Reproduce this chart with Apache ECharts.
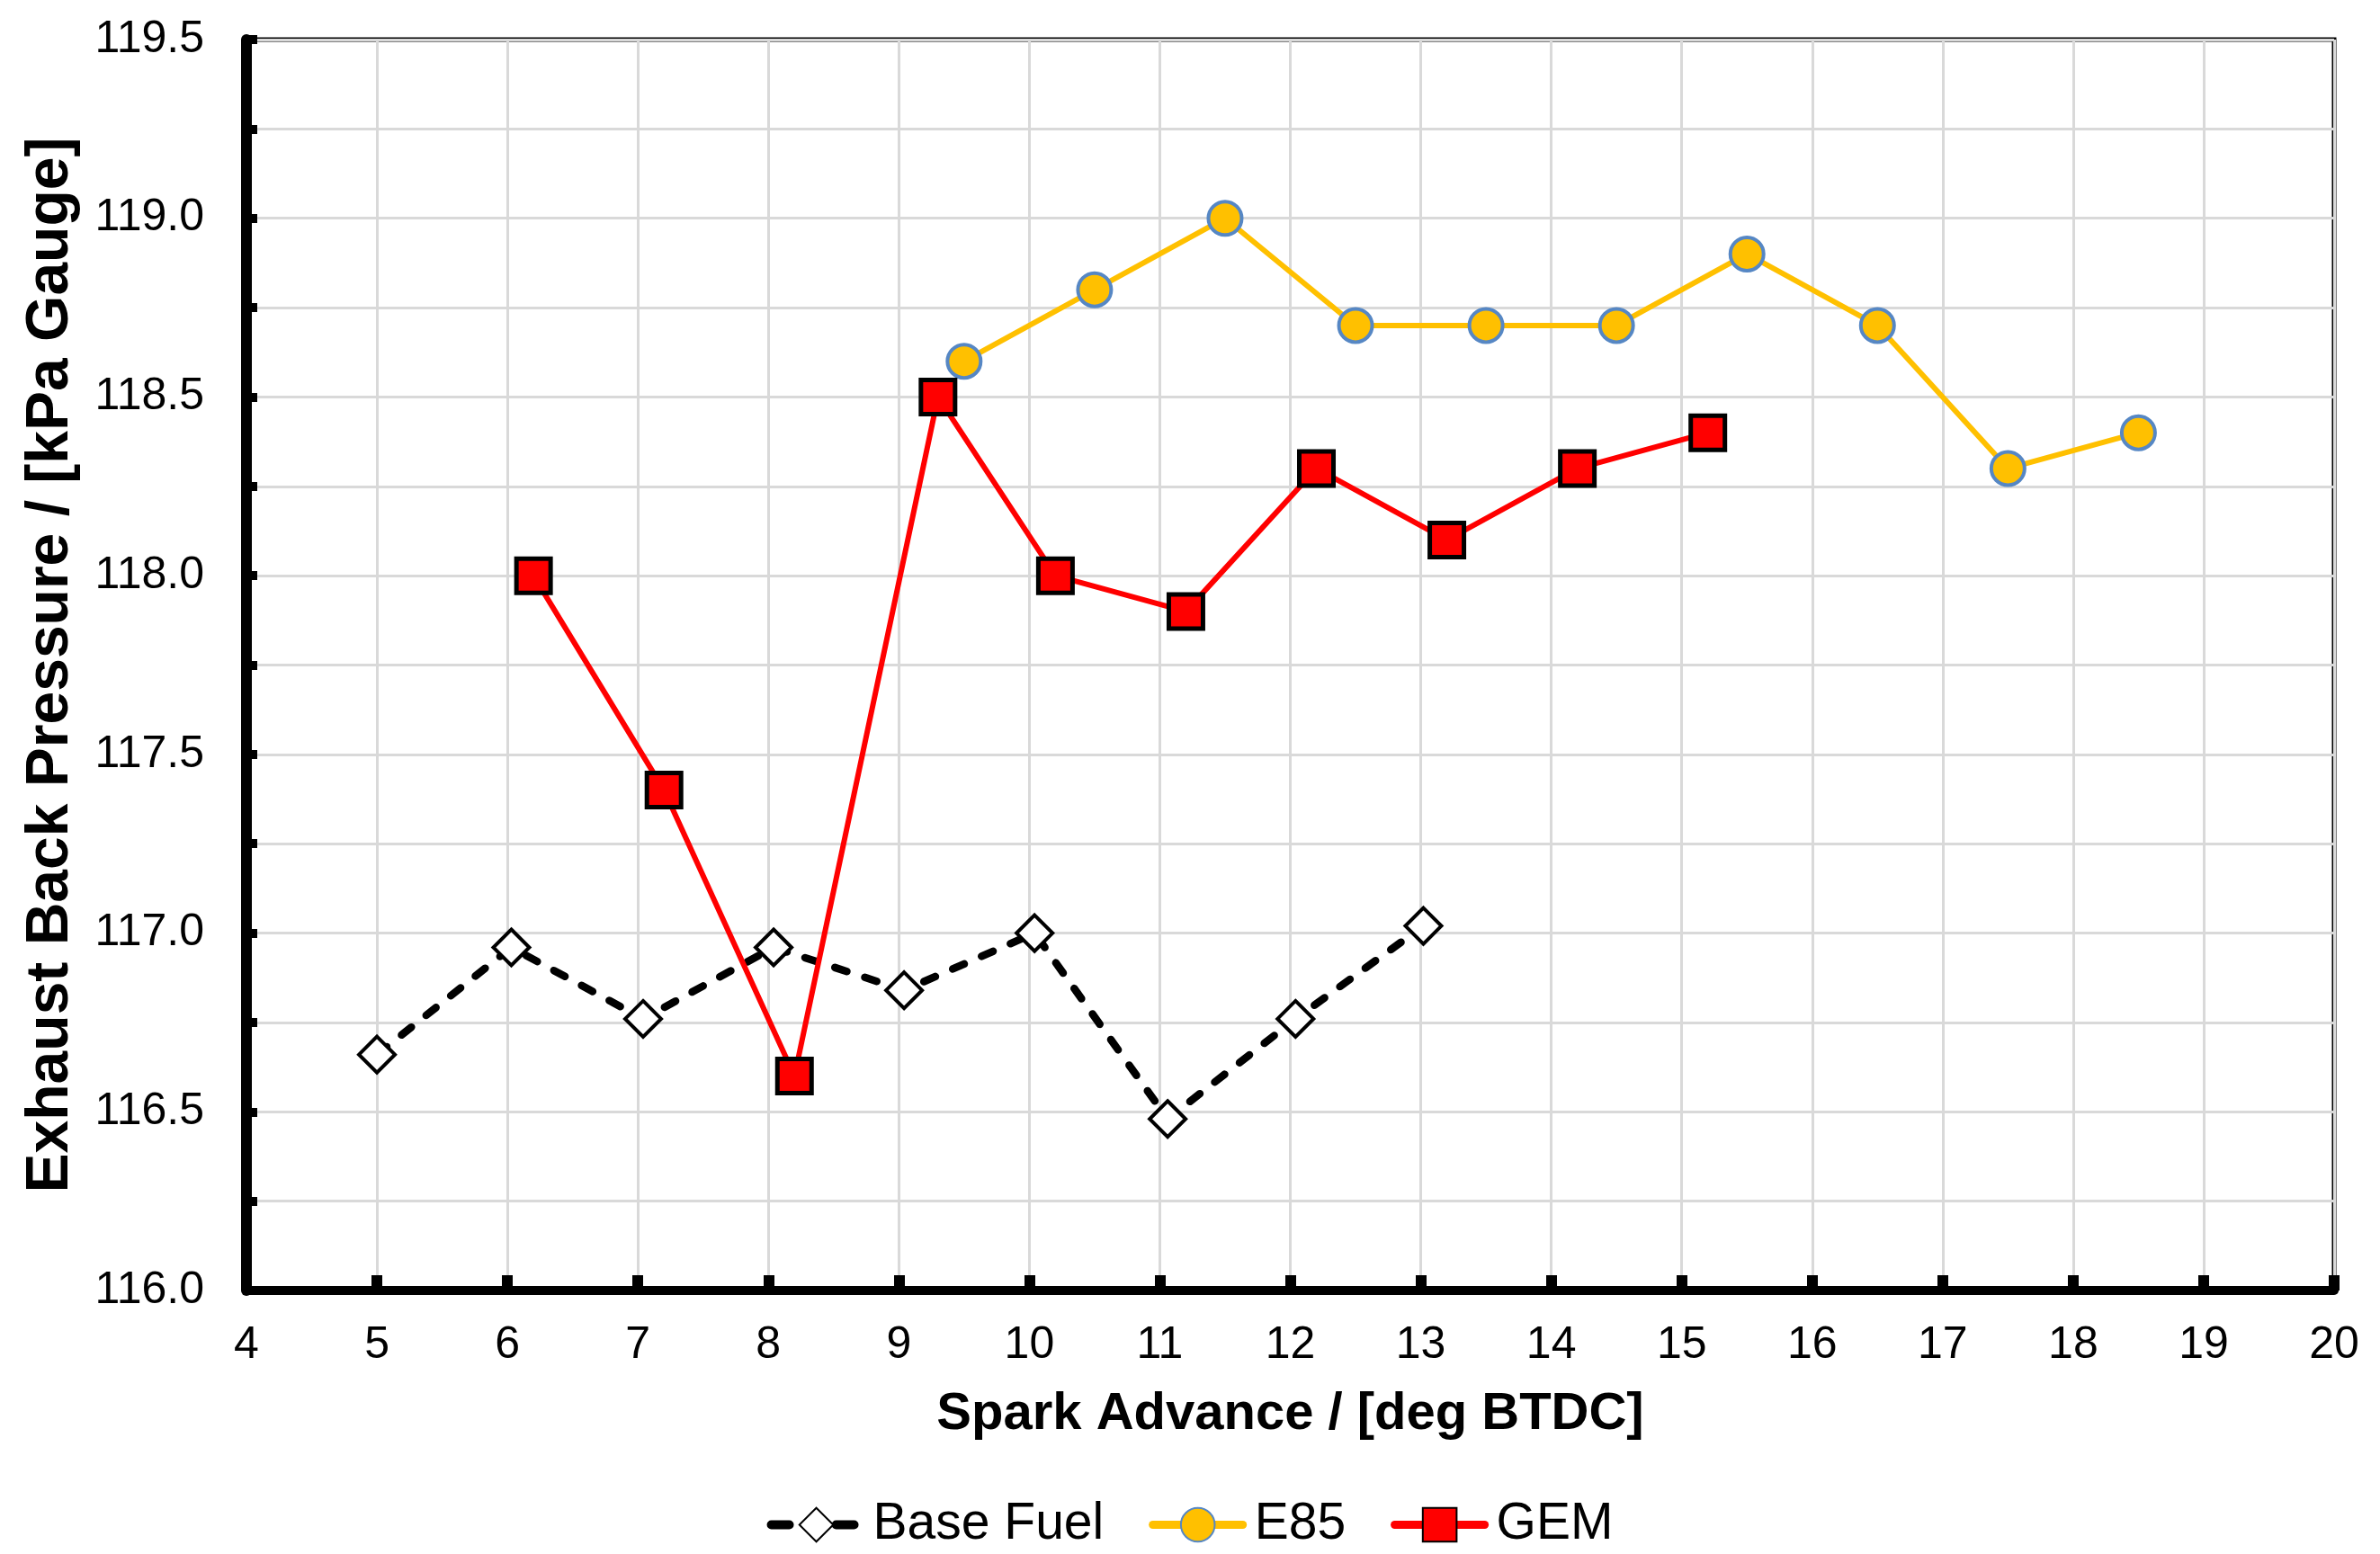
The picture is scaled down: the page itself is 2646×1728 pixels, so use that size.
<!DOCTYPE html>
<html><head><meta charset="utf-8">
<script src="https://cdn.jsdelivr.net/npm/echarts@6/dist/echarts.min.js"></script>
<style>html,body{margin:0;padding:0;background:#fff}#c{width:2646px;height:1728px}</style>
</head><body><div id="c"></div>
<script>
const seriesNames = ['Base Fuel', 'E85', 'GEM'];
const baseX = [5.0, 6.03, 7.04, 8.04, 9.04, 10.04, 11.06, 12.04, 13.02];
const baseY = [116.66, 116.96, 116.76, 116.96, 116.84, 117.0, 116.48, 116.76, 117.02];
const e85X = [9.5, 10.5, 11.5, 12.5, 13.5, 14.5, 15.5, 16.5, 17.5, 18.5];
const e85Y = [118.6, 118.8, 119.0, 118.7, 118.7, 118.7, 118.9, 118.7, 118.3, 118.4];
const gemX = [6.2, 7.2, 8.2, 9.3, 10.2, 11.2, 12.2, 13.2, 14.2, 15.2];
const gemY = [118.0, 117.4, 116.6, 118.5, 118.0, 117.9, 118.3, 118.1, 118.3, 118.4];
const xTicks = {min: 4, max: 20, step: 1};
const yTicks = {min: 116, max: 119.5, step: 0.25, labelStep: 0.5};

const pairs = (xs, ys) => xs.map((x, i) => [x, ys[i]]);
const FONT = '"Liberation Sans", Arial, sans-serif';

const chart = echarts.init(document.getElementById('c'), null, {renderer: 'canvas'});
chart.setOption({
  backgroundColor: '#fff',
  animation: false,
  grid: {left: 274, right: 51, top: 44, bottom: 293, show: true, borderColor: '#000', borderWidth: 5, backgroundColor: 'transparent'},
  legend: {
    data: [
      {name: seriesNames[0], lineStyle: {width: 10, type: [20, 52], cap: 'round', color: '#000'}},
      {name: seriesNames[1], lineStyle: {width: 9, color: '#FFC000', cap: 'round'}},
      {name: seriesNames[2], lineStyle: {width: 9, color: '#FF0000', cap: 'round'}}
    ],
    left: 'center',
    top: 1662,
    itemWidth: 100,
    itemHeight: 47,
    itemGap: 50,
    textStyle: {fontFamily: FONT, fontSize: 57, color: '#000', padding: [0, 0, 0, 8]}
  },
  xAxis: {
    type: 'value',
    min: xTicks.min, max: xTicks.max, interval: xTicks.step,
    name: 'Spark Advance / [deg BTDC]',
    nameLocation: 'middle',
    nameGap: 109,
    nameTextStyle: {fontFamily: FONT, fontSize: 58, fontWeight: 'bold', color: '#000'},
    axisLine: {show: true, onZero: false, lineStyle: {color: '#000', width: 10}},
    axisTick: {show: true, inside: true, length: 17, lineStyle: {color: '#000', width: 12}},
    axisLabel: {fontFamily: FONT, fontSize: 50, color: '#000', margin: 36},
    splitLine: {show: true, lineStyle: {color: '#D9D9D9', width: 3}}
  },
  yAxis: {
    type: 'value',
    min: yTicks.min, max: yTicks.max, interval: yTicks.step,
    name: 'Exhaust Back Pressure / [kPa Gauge]',
    nameLocation: 'middle',
    nameGap: 184,
    nameTextStyle: {fontFamily: FONT, fontSize: 66, fontWeight: 'bold', color: '#000'},
    axisLine: {show: true, onZero: false, lineStyle: {color: '#000', width: 12}},
    axisTick: {show: true, inside: true, length: 12, lineStyle: {color: '#000', width: 10}},
    axisLabel: {
      fontFamily: FONT, fontSize: 50, color: '#000', margin: 47,
      formatter: v => {
        const k = v / yTicks.labelStep;
        return Math.abs(k - Math.round(k)) < 1e-6 ? v.toFixed(1) : '';
      }
    },
    splitLine: {show: true, lineStyle: {color: '#D9D9D9', width: 3}}
  },
  series: [
    {
      name: seriesNames[0], type: 'line', data: pairs(baseX, baseY), z: 3,
      symbol: 'diamond', symbolSize: 40,
      lineStyle: {color: '#000', width: 8.5, type: [14, 21], cap: 'round'},
      itemStyle: {color: '#fff', borderColor: '#000', borderWidth: 4}
    },
    {
      name: seriesNames[1], type: 'line', data: pairs(e85X, e85Y), z: 4,
      symbol: 'circle', symbolSize: 37,
      lineStyle: {color: '#FFC000', width: 6},
      itemStyle: {color: '#FFC000', borderColor: '#5687C4', borderWidth: 4}
    },
    {
      name: seriesNames[2], type: 'line', data: pairs(gemX, gemY), z: 5,
      symbol: 'rect', symbolSize: 38,
      lineStyle: {color: '#FF0000', width: 6},
      itemStyle: {color: '#FF0000', borderColor: '#000', borderWidth: 5}
    }
  ]
});
</script>
</body></html>
